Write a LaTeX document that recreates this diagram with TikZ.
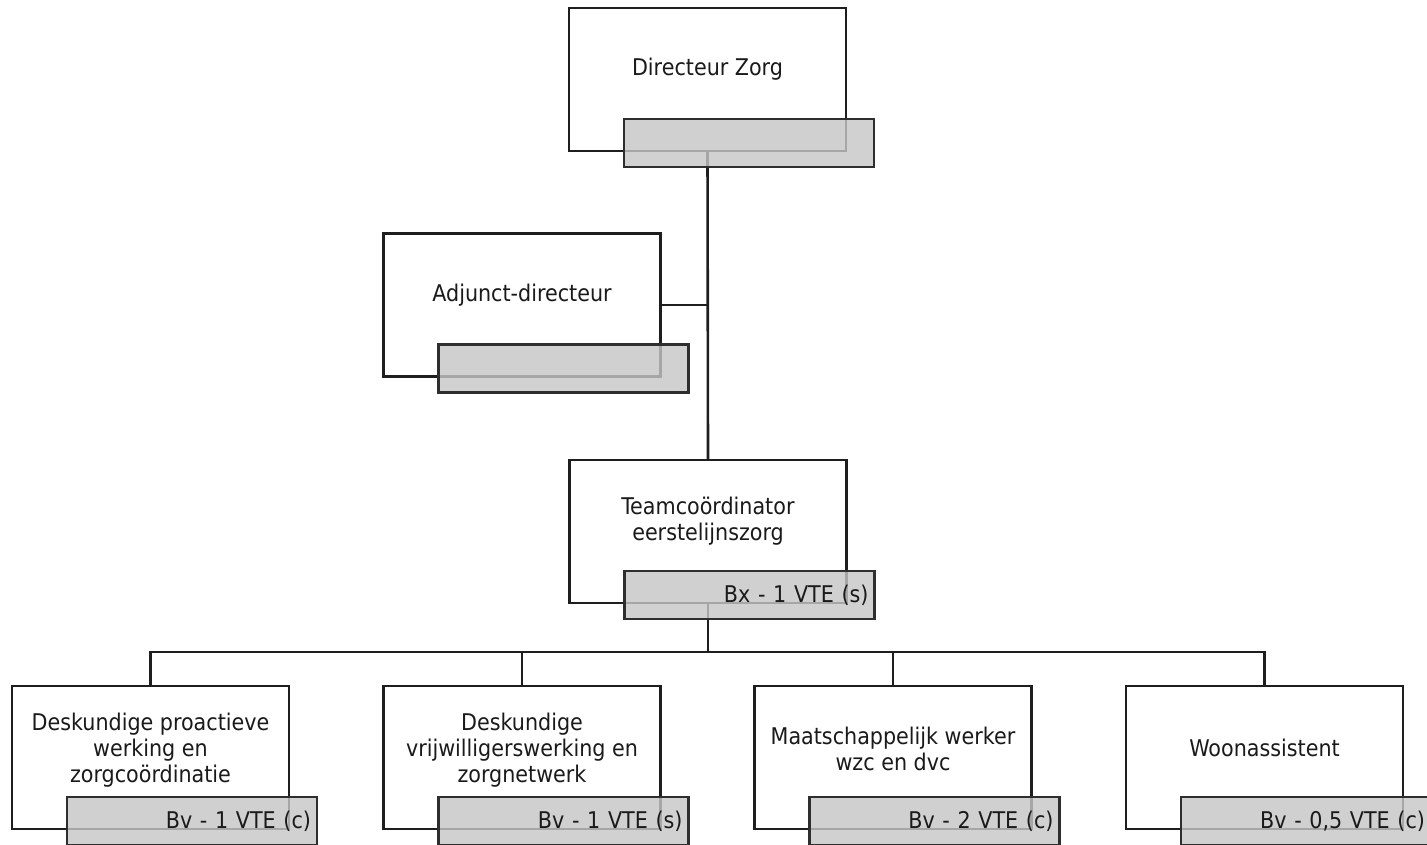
\documentclass[tikz,border=0pt]{standalone}
\usepackage{fontspec}
\setmainfont{DejaVu Sans Condensed}
\definecolor{linec}{HTML}{1E1E1E}
\definecolor{gline}{HTML}{2E2E2E}
\definecolor{grayf}{HTML}{C6C6C6}
\definecolor{txt}{HTML}{1A1A1A}
\tikzset{
  post/.style={draw=linec, line width=2.6pt, fill=white, minimum width=277pt,
    minimum height=143pt, inner sep=0pt, outer sep=0pt},
  grade/.style={draw=gline, line width=2.4pt, fill=grayf, fill opacity=0.81,
    text opacity=1, text=txt, minimum width=250pt, minimum height=48pt,
    inner sep=0pt, outer sep=0pt, text width=238pt, align=right,
    font=\fontsize{23}{26}\selectfont},
  title/.style={align=center, text=txt, inner sep=0pt,
    font=\fontsize{23}{26}\selectfont},
  link/.style={draw=linec, line width=2.6pt, line join=miter},
}
% a post: white box with its title, placed by its centre; #5 nudges the title
\newcommand\orgpost[5][0]{%
  \node[post] (#2) at (#3,#4) {};
  \node[title] (#2-t) at (#3,{#4-10+#1}) {#5};}
% the grey grade bar overlapping the lower right of a post
\newcommand\orggrade[3][0]{%
  \node[grade] (#2-g) at ([shift={(41.5,63.5+#1)}]#2.center) {#3};}
\begin{document}
\begin{tikzpicture}[x=1pt,y=-1pt]
\useasboundingbox (0,0) rectangle (1427,844);

% posts
\orgpost{dir}{707.5}{79.5}{Directeur Zorg}
\orgpost{adj}{522}{305}{Adjunct-directeur}
\orgpost{team}{708}{531.5}{Teamcoördinator\\eerstelijnszorg}
\orgpost[3]{c1}{150.5}{757.5}{Deskundige proactieve\\werking en\\zorgcoördinatie}
\orgpost[3]{c2}{522}{757.5}{Deskundige\\vrijwilligerswerking en\\zorgnetwerk}
\orgpost[1]{c3}{893}{757.5}{Maatschappelijk werker\\wzc en dvc}
\orgpost{c4}{1264.5}{757.5}{Woonassistent}

% reporting lines
\coordinate (bus) at (708,652);
\draw[link] (dir.south) -- (team.north);
\draw[link] (adj.east) -- (adj.east -| dir.south);
\draw[link] (team.south) -- (bus);
\foreach \c in {c1,c2,c3,c4}
  \draw[link] (bus) -| (\c.north);

% grade bars
\orggrade{dir}{}
\orggrade{adj}{}
\orggrade{team}{Bx - 1 VTE (s)}
\orggrade{c1}{Bv - 1 VTE (c)}
\orggrade{c2}{Bv - 1 VTE (s)}
\orggrade{c3}{Bv - 2 VTE (c)}
\orggrade{c4}{Bv - 0,5 VTE (c)}
\end{tikzpicture}
\end{document}
